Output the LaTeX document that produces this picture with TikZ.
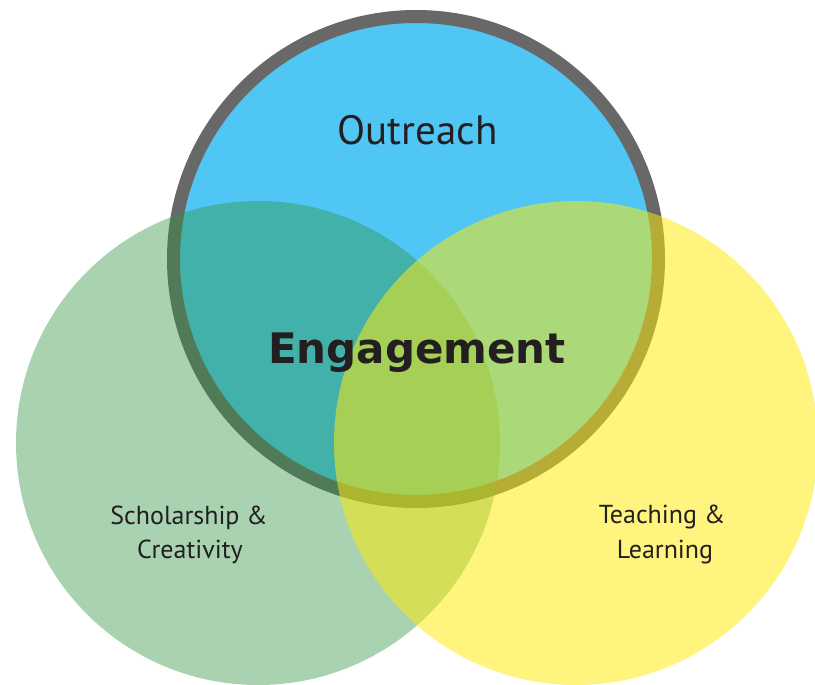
\documentclass[tikz,border=0pt]{standalone}
\usepackage{fontspec}
\setmainfont{PT Sans}
\newfontfamily\engfont{DejaVu Sans}
\definecolor{outblue}{HTML}{50C6F4}
\definecolor{ringgray}{HTML}{696868}
\definecolor{schgreen}{RGB}{48,148,67}
\definecolor{teayellow}{RGB}{253,234,11}
\definecolor{txt}{HTML}{231F20}
\tikzset{
  lbl/.style={text=txt, inner sep=0pt, align=center},
  ringc/.style={fill=outblue, draw=ringgray, line width=13pt},
  greenc/.style={fill=schgreen, fill opacity=0.42},
  yellowc/.style={fill=teayellow, fill opacity=0.53},
}
\begin{document}
\begin{tikzpicture}[x=1pt,y=-1pt]
\useasboundingbox (0,0) rectangle (815,685);
\begin{scope}
\clip (0,0) rectangle (815,685);
\path[ringc] (416,259) circle[radius=242.5];
\path[greenc] (258,443) circle[radius=242];
\path[yellowc] (576,443) circle[radius=242];
\end{scope}
\node[lbl, anchor=base] (out) at (417.5,144) {\fontsize{41}{48}\selectfont Outreach};
\node[lbl, anchor=base] (eng) at (417,363) {\fontsize{42}{50}\selectfont\engfont\bfseries Engagement};
\node[lbl, anchor=base] (sch1) at (189,524) {\fontsize{26}{33}\selectfont Scholarship \&};
\node[lbl, anchor=base] (sch2) at (190,558) {\fontsize{26}{33}\selectfont Creativity};
\node[lbl, anchor=base] (tea1) at (662,523) {\fontsize{26}{33}\selectfont Teaching \&};
\node[lbl, anchor=base] (tea2) at (665,558) {\fontsize{26}{33}\selectfont Learning};
\end{tikzpicture}
\end{document}
